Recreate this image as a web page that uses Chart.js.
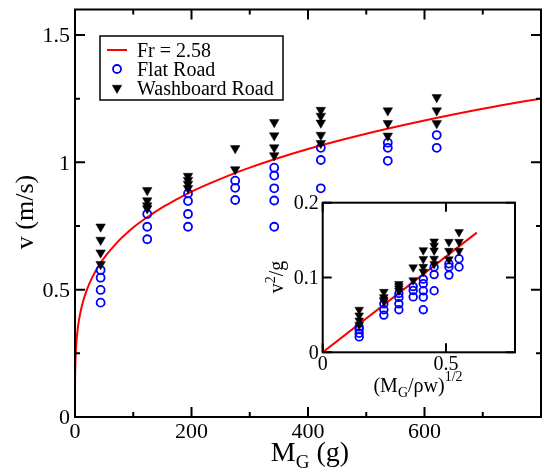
<!DOCTYPE html>
<html>
<head>
<meta charset="utf-8">
<script src="https://cdn.jsdelivr.net/npm/chart.js@4/dist/chart.umd.min.js"></script>
<style>
  body { margin: 0; background: #fff; }
  #wrap { position: relative; width: 553px; height: 470px; }
  #wrap canvas { position: absolute; left: 0; top: 0; }
</style>
</head>
<body>
<div id="wrap">
  <canvas id="main" width="553" height="470"></canvas>
  <canvas id="inset" width="553" height="470"></canvas>
</div>
<script>
// main plot: speed v against grader mass M_G
const massG = [44, 124, 194, 275, 342, 422, 537, 621];
const flatV = [
  [0.577, 0.547, 0.499, 0.449],
  [0.797, 0.747, 0.698],
  [0.878, 0.848, 0.797, 0.747],
  [0.928, 0.900, 0.852],
  [0.979, 0.948, 0.898, 0.850, 0.747],
  [1.057, 1.009, 0.898],
  [1.077, 1.057, 1.006],
  [1.107, 1.057]
];
const washV = [
  [0.747, 0.695, 0.645, 0.600],
  [0.890, 0.850, 0.830, 0.819],
  [0.946, 0.930, 0.915, 0.898],
  [1.055, 0.972],
  [1.157, 1.105, 1.058, 1.027],
  [1.205, 1.182, 1.155, 1.107, 1.075],
  [1.203, 1.153, 1.104],
  [1.255, 1.203, 1.153]
];
// Fr = 2.58 curve
const fitM = [0, 0.02, 0.1, 0.3, 1, 2, 4, 7, 12, 20, 30, 45, 70, 100, 125, 150, 175, 200, 250, 300, 400, 500, 600, 700, 800];
const fitV = [0, 0.088, 0.132, 0.174, 0.235, 0.280, 0.333, 0.383, 0.438, 0.497, 0.550, 0.609, 0.680, 0.744, 0.786, 0.823, 0.855, 0.885, 0.935, 0.979, 1.052, 1.112, 1.164, 1.210, 1.251];
const xTicks = [0, 200, 400, 600];
const xMinor = [100, 300, 500, 700];
const yTicks = [0, 0.5, 1, 1.5];
const yMinor = [0.25, 0.75, 1.25];

// inset: v^2/g against (M_G/rho w)^1/2
const insetX = [0.148, 0.248, 0.309, 0.367, 0.408, 0.452, 0.512, 0.553];
const gAcc = 9.8;
const insetFitX = [0, 0.625];
const insetFitY = [0, 0.16];
const insetXTicks = [0, 0.5];
const insetYTicks = [0, 0.1, 0.2];

const SERIF = '"Liberation Serif", "DejaVu Serif", serif';

function points(xs, groups, f) {
  return groups.flatMap((vals, i) => vals.map(v => ({x: xs[i], y: f ? f(v) : v})));
}

function richText(ctx, parts, x, y, angle) {
  ctx.save();
  ctx.translate(x, y);
  ctx.rotate(angle || 0);
  ctx.fillStyle = '#000';
  ctx.textBaseline = 'alphabetic';
  let w = 0;
  parts.forEach(p => { ctx.font = p[1] + 'px ' + SERIF; w += ctx.measureText(p[0]).width; });
  let cx = -w / 2;
  parts.forEach(p => {
    ctx.font = p[1] + 'px ' + SERIF;
    ctx.fillText(p[0], cx, p[2] || 0);
    cx += ctx.measureText(p[0]).width;
  });
  ctx.restore();
}

// frame round the plot area, inward ticks on all four sides, serif tick labels
const frameTicks = {
  id: 'frameTicks',
  afterDatasetsDraw(chart, args, o) {
    const {ctx, chartArea: a, scales: {x, y}} = chart;
    ctx.save();
    ctx.strokeStyle = '#000';
    ctx.lineWidth = o.lineWidth;
    ctx.beginPath();
    const tx = (vals, len) => vals.forEach(v => {
      const px = x.getPixelForValue(v);
      ctx.moveTo(px, a.bottom); ctx.lineTo(px, a.bottom - len);
      ctx.moveTo(px, a.top); ctx.lineTo(px, a.top + len);
    });
    const ty = (vals, len) => vals.forEach(v => {
      const py = y.getPixelForValue(v);
      ctx.moveTo(a.left, py); ctx.lineTo(a.left + len, py);
      ctx.moveTo(a.right, py); ctx.lineTo(a.right - len, py);
    });
    tx(o.xMajor, o.major); tx(o.xMinor || [], o.minor);
    ty(o.yMajor, o.major); ty(o.yMinor || [], o.minor);
    ctx.stroke();
    ctx.strokeRect(a.left, a.top, a.width, a.height);

    ctx.fillStyle = '#000';
    ctx.font = o.size + 'px ' + SERIF;
    ctx.textAlign = 'center';
    ctx.textBaseline = 'alphabetic';
    o.xMajor.forEach(v => ctx.fillText(String(v), x.getPixelForValue(v), a.bottom + o.xPad));
    ctx.textAlign = 'right';
    o.yMajor.forEach(v => ctx.fillText(String(v), a.left - o.yPad, y.getPixelForValue(v) + o.size * 0.33));
    ctx.restore();
  }
};

const titles = {
  id: 'titles',
  afterDraw(chart, args, o) {
    o.items.forEach(t => richText(chart.ctx, t.parts, t.x, t.y, t.angle));
  }
};

const boxLegend = {
  id: 'boxLegend',
  afterDraw(chart, args, o) {
    const ctx = chart.ctx;
    ctx.save();
    ctx.fillStyle = '#fff';
    ctx.fillRect(o.x, o.y, o.w, o.h);
    ctx.strokeStyle = '#000';
    ctx.lineWidth = 1.5;
    ctx.strokeRect(o.x, o.y, o.w, o.h);
    o.order.forEach((di, i) => {
      const ds = chart.data.datasets[di];
      const cy = o.y + o.first + i * o.step;
      const sx = o.x + 17;
      if (ds.showLine) {
        ctx.strokeStyle = ds.borderColor;
        ctx.lineWidth = 2;
        ctx.beginPath();
        ctx.moveTo(sx - 10, cy); ctx.lineTo(sx + 10, cy);
        ctx.stroke();
      } else {
        ctx.fillStyle = ds.pointBackgroundColor;
        ctx.strokeStyle = ds.pointBorderColor;
        ctx.lineWidth = ds.pointBorderWidth;
        Chart.helpers.drawPoint(ctx, {
          pointStyle: ds.pointStyle, radius: ds.pointRadius,
          rotation: ds.pointRotation || 0, borderWidth: ds.pointBorderWidth
        }, sx, cy);
      }
      ctx.fillStyle = '#000';
      ctx.font = o.size + 'px ' + SERIF;
      ctx.textBaseline = 'alphabetic';
      ctx.fillText(ds.label, o.x + 37, cy + 7);
    });
    ctx.restore();
  }
};

const flatStyle = r => ({
  showLine: false, pointStyle: 'circle', pointRadius: r,
  pointBackgroundColor: 'rgba(0,0,0,0)', pointBorderColor: '#0000ff', pointBorderWidth: 1.8
});
const washStyle = r => ({
  showLine: false, pointStyle: 'triangle', pointRotation: 180, pointRadius: r,
  pointBackgroundColor: '#000', pointBorderColor: '#000', pointBorderWidth: 0.5
});
const redLine = {
  showLine: true, borderColor: '#ff0000', borderWidth: 2, pointRadius: 0,
  cubicInterpolationMode: 'monotone', fill: false
};

function axis(min, max, ticks, fitSize, horizontal) {
  return {
    type: 'linear', min: min, max: max,
    grid: {display: false, drawTicks: false},
    border: {display: false},
    ticks: {display: false},
    afterBuildTicks: s => { s.ticks = ticks.map(v => ({value: v})); },
    afterFit: s => { if (horizontal) s.height = fitSize; else s.width = fitSize; }
  };
}

new Chart(document.getElementById('main'), {
  type: 'scatter',
  data: {
    datasets: [
      Object.assign({label: 'Fr = 2.58', data: fitM.map((m, i) => ({x: m, y: fitV[i]})), order: 2}, redLine),
      Object.assign({label: 'Flat Road', data: points(massG, flatV), order: 1}, flatStyle(4)),
      Object.assign({label: 'Washboard Road', data: points(massG, washV), order: 0}, washStyle(5.5))
    ]
  },
  options: {
    responsive: false,
    animation: false,
    layout: {padding: {left: 0, top: 9.5, right: 12, bottom: 0}},
    scales: {
      x: axis(0, 800, xTicks, 53, true),
      y: axis(0, 1.6, yTicks, 75, false)
    },
    plugins: {
      legend: {display: false},
      tooltip: {enabled: false},
      frameTicks: {lineWidth: 2, major: 10, minor: 5, xMajor: xTicks, xMinor: xMinor, yMajor: yTicks, yMinor: yMinor,
                   size: 22, xPad: 21, yPad: 5},
      titles: {items: [
        {parts: [['v (m/s)', 26]], x: 33, y: 212, angle: -Math.PI / 2},
        {parts: [['M', 28], ['G', 19, 7], [' (g)', 28]], x: 310, y: 461}
      ]},
      boxLegend: {x: 100, y: 36, w: 183, h: 64, first: 14, step: 19, size: 20, order: [0, 1, 2]}
    }
  },
  plugins: [frameTicks, titles, boxLegend]
});

new Chart(document.getElementById('inset'), {
  type: 'scatter',
  data: {
    datasets: [
      Object.assign({label: 'fit', data: insetFitX.map((v, i) => ({x: v, y: insetFitY[i]})), order: 2}, redLine),
      Object.assign({label: 'Flat Road', data: points(insetX, flatV, v => v * v / gAcc), order: 1}, flatStyle(3.8)),
      Object.assign({label: 'Washboard Road', data: points(insetX, washV, v => v * v / gAcc), order: 0}, washStyle(5))
    ]
  },
  options: {
    responsive: false,
    animation: false,
    layout: {padding: {left: 282.7, top: 202.7, right: 38, bottom: 77.7}},
    scales: {
      x: axis(0, 0.78, insetXTicks, 40, true),
      y: axis(0, 0.2, insetYTicks, 40, false)
    },
    plugins: {
      legend: {display: false},
      tooltip: {enabled: false},
      frameTicks: {lineWidth: 2, major: 9, minor: 5, xMajor: insetXTicks, yMajor: insetYTicks,
                   size: 20, xPad: 18, yPad: 4},
      titles: {items: [
        {parts: [['v', 20], ['2', 14, -8], ['/g', 20]], x: 283, y: 277, angle: -Math.PI / 2},
        {parts: [['(M', 20], ['G', 14, 5], ['/\u03c1w)', 20], ['1/2', 14, -11]], x: 418, y: 392}
      ]}
    }
  },
  plugins: [frameTicks, titles]
});
</script>
</body>
</html>
